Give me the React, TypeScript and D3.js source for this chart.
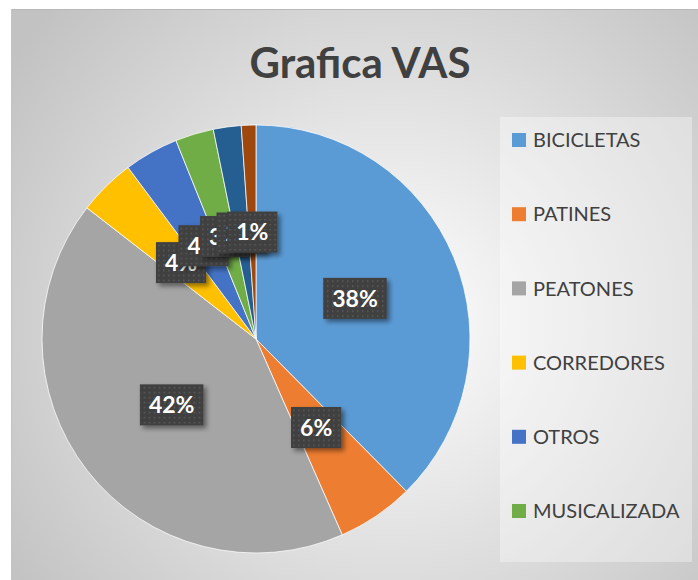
import * as d3 from "d3";
import React, { useEffect, useRef } from "react";

const title = "Grafica VAS";
const categories = [
  "BICICLETAS",
  "PATINES",
  "PEATONES",
  "CORREDORES",
  "OTROS",
  "MUSICALIZADA",
  "CATEGORIA 7",
  "CATEGORIA 8",
];
// share of each group, %
const values = [37.6, 5.8, 42.1, 4.3, 4.1, 2.9, 2.1, 1.1];
const colors = ["#5B9BD5", "#ED7D31", "#A5A5A5", "#FFC000", "#4472C4", "#70AD47", "#255E91", "#9E480E"];
// the legend box only has room for the first six entries
const legendVisible = 6;

export default function App() {
  const svgRef = useRef<SVGSVGElement | null>(null);

  useEffect(() => {
    const W = 698, H = 580;
    const svg = d3.select(svgRef.current);
    svg.selectAll("*").remove();

    const defs = svg.append("defs");
    const grad = defs.append("radialGradient")
      .attr("id", "bg")
      .attr("gradientUnits", "userSpaceOnUse")
      .attr("cx", 390).attr("cy", 320).attr("r", 460);
    grad.append("stop").attr("offset", "0%").attr("stop-color", "#ffffff");
    grad.append("stop").attr("offset", "100%").attr("stop-color", "#c2c2c2");

    const dots = defs.append("pattern")
      .attr("id", "dots")
      .attr("patternUnits", "userSpaceOnUse")
      .attr("width", 5).attr("height", 5);
    dots.append("rect").attr("width", 5).attr("height", 5).attr("fill", "#404040");
    dots.append("rect").attr("x", 2).attr("y", 2).attr("width", 1.5).attr("height", 1.5).attr("fill", "#5c5c5c");

    const shadow = defs.append("filter").attr("id", "shadow")
      .attr("x", "-30%").attr("y", "-30%").attr("width", "160%").attr("height", "160%");
    shadow.append("feDropShadow")
      .attr("dx", 3).attr("dy", 3).attr("stdDeviation", 2.5)
      .attr("flood-color", "#000").attr("flood-opacity", 0.45);

    // chart area
    svg.append("rect").attr("width", W).attr("height", H).attr("fill", "#fff");
    svg.append("rect").attr("x", 11).attr("y", 9).attr("width", W).attr("height", H).attr("fill", "url(#bg)");
    svg.append("line").attr("x1", 11).attr("x2", W).attr("y1", 9.5).attr("y2", 9.5).attr("stroke", "#b8b8b8");
    svg.append("line").attr("x1", 11.5).attr("x2", 11.5).attr("y1", 9).attr("y2", H).attr("stroke", "#c4c4c4");

    // title
    svg.append("text")
      .attr("x", 360).attr("y", 78)
      .attr("text-anchor", "middle")
      .attr("font-family", "Lato, 'Open Sans', sans-serif")
      .attr("font-weight", 700)
      .attr("font-size", 42)
      .attr("fill", "#404040")
      .text(title);

    // pie
    const cx = 256, cy = 339, R = 214;
    const pie = d3.pie<number>().sort(null).value(d => d);
    const arcs = pie(values);
    const arc = d3.arc<d3.PieArcDatum<number>>().innerRadius(0).outerRadius(R);
    const g = svg.append("g").attr("transform", `translate(${cx},${cy})`);
    g.selectAll("path")
      .data(arcs)
      .join("path")
      .attr("d", arc)
      .attr("fill", (_d, i) => colors[i])
      .attr("stroke", "#fff")
      .attr("stroke-width", 0.75);

    // data labels (later ones drawn on top)
    const labels = g.selectAll("g.lbl")
      .data(arcs)
      .join("g")
      .attr("class", "lbl")
      .attr("transform", d => `translate(${arc.centroid(d)})`);
    labels.each(function (d) {
      const lg = d3.select(this);
      const box = lg.append("rect").attr("fill", "url(#dots)").attr("filter", "url(#shadow)");
      const t = lg.append("text")
        .attr("text-anchor", "middle")
        .attr("dy", "0.36em")
        .attr("font-family", "Lato, 'Open Sans', sans-serif")
        .attr("font-weight", 700)
        .attr("font-size", 23)
        .attr("fill", "#fff")
        .text(`${Math.round(d.data)}%`);
      const tw = (t.node() as SVGTextElement).getComputedTextLength();
      const bw = tw + 18, bh = 41;
      box.attr("x", -bw / 2).attr("y", -bh / 2).attr("width", bw).attr("height", bh);
    });

    // legend
    const legendCats = categories.slice(0, legendVisible);
    svg.append("rect")
      .attr("x", 500).attr("y", 117).attr("width", 192).attr("height", 445)
      .attr("fill", "#fff").attr("opacity", 0.35);
    const ly = d3.scalePoint<string>().domain(legendCats).range([140, 511]);
    const items = svg.append("g").selectAll("g")
      .data(legendCats)
      .join("g")
      .attr("transform", d => `translate(512,${ly(d)})`);
    items.append("rect")
      .attr("y", -7).attr("width", 14).attr("height", 14)
      .attr("fill", (_d, i) => colors[i]);
    items.append("text")
      .attr("x", 21).attr("dy", "0.36em")
      .attr("font-family", "Lato, 'Open Sans', sans-serif")
      .attr("font-size", 20)
      .attr("fill", "#404040")
      .text(d => d);
  }, []);

  return (
    <svg
      ref={svgRef}
      width={698}
      height={580}
      style={{ position: "absolute", left: 0, top: 0 }}
    />
  );
}
